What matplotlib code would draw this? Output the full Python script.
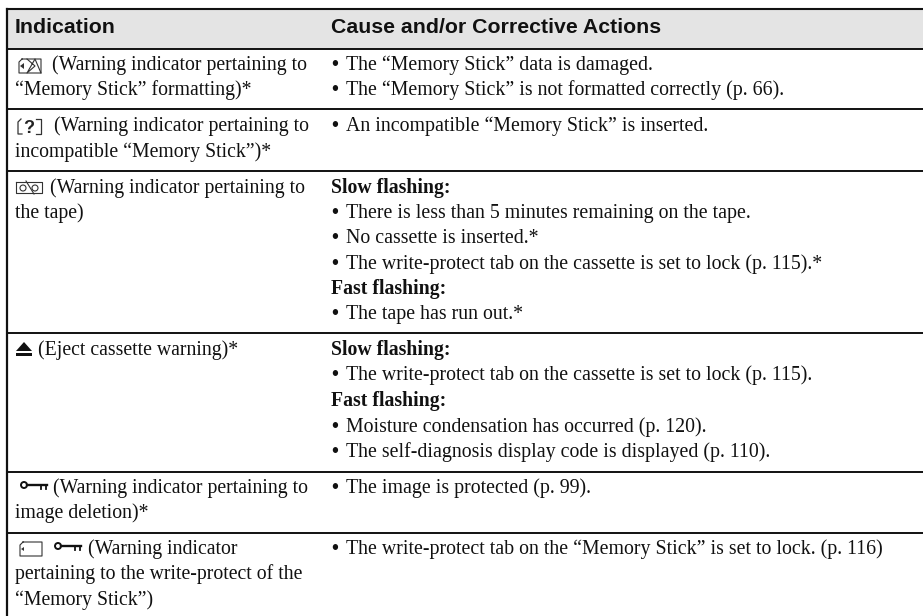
import matplotlib
matplotlib.use("Agg")
import matplotlib.pyplot as plt
from matplotlib.patches import Rectangle, Circle, Polygon

W, H = 923, 616

header_left = "Indication"
header_right = "Cause and/or Corrective Actions"

# x, baseline y, text
left_lines = [
    (52, 70, "(Warning indicator pertaining to"),
    (15, 95, "“Memory Stick” formatting)*"),
    (54, 131, "(Warning indicator pertaining to"),
    (15, 157, "incompatible “Memory Stick”)*"),
    (50, 193, "(Warning indicator pertaining to"),
    (15, 218, "the tape)"),
    (38, 355, "(Eject cassette warning)*"),
    (53, 493, "(Warning indicator pertaining to"),
    (15, 518, "image deletion)*"),
    (88, 554, "(Warning indicator"),
    (15, 579, "pertaining to the write-protect of the"),
    (15, 605, "“Memory Stick”)"),
]

right_heads = [
    (193, "Slow flashing:"),
    (294, "Fast flashing:"),
    (355, "Slow flashing:"),
    (406, "Fast flashing:"),
]

right_bullets = [
    (70, "The “Memory Stick” data is damaged."),
    (95, "The “Memory Stick” is not formatted correctly (p. 66)."),
    (131, "An incompatible “Memory Stick” is inserted."),
    (218, "There is less than 5 minutes remaining on the tape."),
    (243, "No cassette is inserted.*"),
    (269, "The write-protect tab on the cassette is set to lock (p. 115).*"),
    (319, "The tape has run out.*"),
    (380, "The write-protect tab on the cassette is set to lock (p. 115)."),
    (432, "Moisture condensation has occurred (p. 120)."),
    (457, "The self-diagnosis display code is displayed (p. 110)."),
    (493, "The image is protected (p. 99)."),
    (554, "The write-protect tab on the “Memory Stick” is set to lock. (p. 116)"),
]

row_lines = [49, 109, 171, 333, 472, 533]

INK = "#111111"
SERIF = "Liberation Serif"

fig = plt.figure(figsize=(W / 100, H / 100), dpi=100)
ax = fig.add_axes([0, 0, 1, 1])
ax.set_xlim(0, W)
ax.set_ylim(H, 0)
ax.axis("off")

# header band and rules
ax.add_patch(Rectangle((7, 9), W - 7, 40, color="#e4e4e4", lw=0))
ax.plot([7, W], [9, 9], color=INK, lw=1.5)
for y in row_lines:
    ax.plot([7, W], [y, y], color=INK, lw=1.4)
ax.plot([7, 7], [8.5, H], color=INK, lw=1.6)

ax.text(15, 33, header_left, family="Liberation Sans", weight="bold", fontsize=15.3, va="baseline", color=INK)
ax.text(331, 33, header_right, family="Liberation Sans", weight="bold", fontsize=15.3, va="baseline", color=INK)

for x, y, s in left_lines:
    ax.text(x, y, s, family=SERIF, fontsize=14.25, va="baseline", color=INK)
for y, s in right_heads:
    ax.text(331, y, s, family=SERIF, weight="bold", fontsize=14.25, va="baseline", color=INK)
for y, s in right_bullets:
    ax.text(331, y, "•", family=SERIF, weight="bold", fontsize=14.25, va="baseline", color=INK)
    ax.text(346, y, s, family=SERIF, fontsize=14.35, va="baseline", color=INK)


# small icons
def key(x, y):
    ax.add_patch(Circle((x + 3, y), 3, fill=False, ec=INK, lw=1.4))
    ax.plot([x + 6, x + 26], [y, y], color=INK, lw=1.7)
    ax.plot([x + 20, x + 20], [y, y + 4], color=INK, lw=1.3)
    ax.plot([x + 25, x + 25], [y, y + 4], color=INK, lw=1.3)


def card(x, y, w, h):
    ax.plot([x + 3, x, x, x + w, x + w, x + 3], [y, y + 3, y + h, y + h, y, y], color="#333333", lw=0.8)


# memory stick format icon
card(19, 59, 22, 14)
ax.plot([27, 35, 27, 35, 41], [59, 66, 73, 59, 73], color="#333333", lw=0.8)
ax.add_patch(Polygon([[20, 66], [24, 63], [24, 69]], color="#333333", lw=0))

# incompatible stick icon
ax.plot([21, 18, 18, 22], [119, 122, 134, 134], color="#333333", lw=0.9)
ax.plot([36, 41, 41, 36], [119, 119, 134, 134], color="#333333", lw=0.9)
ax.text(29, 133, "?", family="Liberation Sans", weight="bold", fontsize=13, ha="center", va="baseline", color="#222222")

# tape icon
ax.plot([16, 42, 42, 16, 16], [182, 182, 193, 193, 182], color="#333333", lw=0.8)
ax.add_patch(Circle((23, 188), 3, fill=False, ec="#333333", lw=0.8))
ax.add_patch(Circle((35, 188), 3, fill=False, ec="#333333", lw=0.8))
ax.plot([26, 34], [181, 194], color="#333333", lw=0.8)

# eject icon
ax.add_patch(Polygon([[16, 351], [24, 342], [32, 351]], color=INK, lw=0))
ax.add_patch(Rectangle((16, 352.5), 16, 3, color=INK, lw=0))

key(21, 485)
card(20, 542, 22, 14)
ax.add_patch(Polygon([[21, 549], [24, 547], [24, 551]], color="#333333", lw=0))
key(55, 546)

fig.savefig("out.png", dpi=100)
